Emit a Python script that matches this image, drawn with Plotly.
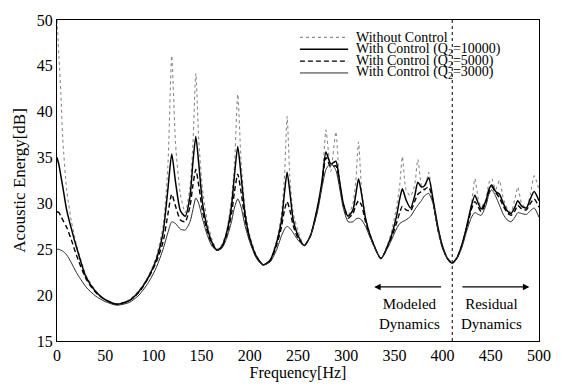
import plotly.graph_objects as go

freq = [0, 2, 4, 6, 10, 15, 20, 30, 40, 50, 62, 75, 85, 95, 103, 110, 115, 119, 123, 128, 133, 138, 141, 144, 147,
        151, 156, 161, 166, 171, 176, 181, 184, 187.5, 191, 195, 200, 207, 214, 221, 228, 233, 236, 238.7, 241.5,
        245, 250, 256.5, 263, 270, 275, 279, 284, 289.3, 293, 297, 302, 307, 310, 312.8, 316, 320, 326, 336, 346,
        352, 355.5, 358.3, 362, 366.8, 371, 374.3, 378, 381, 385.6, 390, 395, 400, 405, 410, 415, 420, 425, 430,
        433.5, 437, 440, 445, 448, 451, 455, 459, 463, 467, 471, 475, 478, 482, 487, 491, 495, 500]

no_ctrl = [50, 46, 42, 37, 31.5, 28.0, 25.6, 22.2, 20.5, 19.5, 19.0, 19.5, 20.5, 22.1, 24.2, 27.5, 34.0, 46.1, 36.5,
           31.0, 29.0, 31.8, 36.5, 44.2, 37.0, 31.5, 28.0, 26.0, 25.0, 25.5, 27.0, 30.5, 34.0, 41.9, 34.5, 29.5,
           26.5, 24.3, 23.3, 23.8, 26.0, 29.0, 33.0, 39.5, 33.0, 29.0, 27.0, 25.4, 26.5, 29.3, 32.5, 38.0, 33.5,
           37.8, 32.5, 29.8, 28.7, 30.0, 32.5, 36.7, 31.5, 28.5, 26.3, 24.0, 26.5, 29.5, 32.0, 35.1, 31.5, 30.8,
           32.0, 34.8, 32.0, 31.5, 33.4, 30.0, 27.0, 25.0, 24.0, 23.5, 24.0, 25.5, 27.5, 30.0, 32.7, 30.5, 29.6,
           30.5, 32.2, 32.7, 31.5, 32.5, 30.5, 29.5, 29.0, 30.5, 31.8, 30.0, 29.5, 31.0, 33.0, 31.5]

q10000 = [35.0, 34.2, 33.0, 31.8, 29.3, 27.2, 25.3, 22.0, 20.4, 19.5, 19.0, 19.4, 20.4, 22.0, 23.9, 26.8, 31.5, 35.4,
          32.3, 29.2, 28.6, 30.8, 34.5, 37.3, 34.4, 30.0, 27.3, 25.7, 24.9, 25.3, 26.8, 29.7, 33.0, 36.2, 33.0,
          28.9, 26.2, 24.2, 23.3, 23.8, 25.8, 28.2, 31.2, 33.4, 31.3, 28.2, 26.5, 25.4, 26.5, 29.5, 32.5, 35.6,
          34.3, 34.6, 32.5, 30.0, 28.6, 29.3, 31.0, 32.7, 31.0, 28.4, 26.2, 24.0, 26.2, 28.5, 30.5, 31.6, 30.4,
          29.5, 30.8, 32.3, 31.8, 31.9, 32.8, 30.5, 27.5, 25.3, 24.0, 23.5, 24.1, 25.5, 27.5, 29.8, 30.9, 30.0,
          29.4, 30.3, 31.5, 32.0, 31.3, 31.0, 30.0, 29.2, 28.9, 29.6, 30.3, 29.7, 29.5, 30.5, 31.3, 30.3]

q5000 = [29.1, 29.0, 28.6, 28.2, 27.4, 26.0, 24.4, 21.8, 20.3, 19.5, 19.0, 19.4, 20.3, 21.9, 23.6, 25.8, 28.8, 31.0,
         29.7, 28.2, 28.0, 29.7, 32.0, 33.7, 32.0, 29.1, 26.9, 25.5, 24.9, 25.2, 26.5, 28.8, 31.2, 33.2, 31.2,
         28.3, 26.0, 24.1, 23.3, 23.7, 25.5, 27.5, 29.3, 30.2, 29.3, 27.6, 26.2, 25.4, 26.5, 29.3, 32.2, 35.0,
         34.0, 34.1, 32.2, 29.8, 28.4, 28.9, 29.8, 30.3, 29.8, 28.0, 26.1, 24.0, 26.0, 27.8, 29.0, 29.7, 29.3,
         29.2, 30.2, 31.0, 31.3, 31.5, 31.8, 30.3, 27.3, 25.2, 24.0, 23.5, 24.1, 25.4, 27.3, 29.4, 30.2, 29.6,
         29.1, 30.1, 31.2, 31.8, 31.2, 30.6, 29.7, 29.0, 28.7, 29.2, 29.8, 29.4, 29.3, 30.0, 30.5, 29.6]

q3000 = [25.0, 25.0, 24.9, 24.8, 24.4, 23.5, 22.5, 20.9, 19.9, 19.3, 18.9, 19.2, 20.0, 21.4, 23.0, 25.0, 26.8, 28.0,
         27.8, 27.2, 27.1, 28.0, 29.3, 30.6, 30.0, 28.3, 26.5, 25.3, 24.9, 25.1, 26.2, 28.0, 29.5, 30.5, 29.6,
         27.6, 25.8, 24.0, 23.3, 23.6, 25.0, 26.5, 27.2, 27.5, 27.3, 26.8, 26.0, 25.4, 26.5, 29.0, 31.8, 33.7,
         34.4, 33.6, 31.8, 29.5, 28.0, 28.0, 28.3, 28.4, 28.2, 27.5, 26.0, 24.0, 25.8, 27.2, 27.8, 28.0, 28.2,
         28.6, 29.3, 29.8, 30.3, 30.8, 31.1, 30.0, 27.2, 25.1, 24.0, 23.5, 24.0, 25.2, 27.0, 28.5, 29.0, 28.8,
         28.7, 29.8, 31.0, 31.5, 30.8, 29.8, 28.8, 28.2, 28.0, 28.5, 29.0, 28.9, 28.8, 29.2, 29.5, 28.5]

x_ticks = [0, 50, 100, 150, 200, 250, 300, 350, 400, 450, 500]
y_ticks = [15, 20, 25, 30, 35, 40, 45, 50]
boundary_freq = 410

series_names = ["Without Control", "With Control (Q<sub>2</sub>=10000)",
                "With Control (Q<sub>2</sub>=5000)", "With Control (Q<sub>2</sub>=3000)"]
series_vals = [no_ctrl, q10000, q5000, q3000]
styles = [dict(color="#8a8a8a", width=1.1, dash="dot"),
          dict(color="#000000", width=1.5, dash="solid"),
          dict(color="#000000", width=1.4, dash="5px,3px"),
          dict(color="#2a2a2a", width=1.0, dash="solid")]

FONT = "Liberation Serif"

fig = go.Figure()
for name, vals, st in zip(series_names, series_vals, styles):
    fig.add_trace(go.Scatter(x=freq, y=vals, mode="lines", name=name, showlegend=False,
                             line=dict(shape="spline", smoothing=0.6, **st)))

# boundary line
fig.add_shape(type="line", xref="x", yref="paper", x0=boundary_freq, x1=boundary_freq, y0=0, y1=1,
              line=dict(color="black", width=1, dash="dot"))

# manual legend
leg_y = [0.946, 0.909, 0.872, 0.835]
for name, st, yy in zip(series_names, styles, leg_y):
    fig.add_shape(type="line", xref="paper", yref="paper", x0=0.504, x1=0.604, y0=yy, y1=yy, line=st)
    fig.add_annotation(xref="paper", yref="paper", x=0.617, y=yy, text=name, showarrow=False,
                       xanchor="left", yanchor="middle", font=dict(family=FONT, size=14, color="black"))

# arrows
fig.add_annotation(x=329, y=20.9, ax=400, ay=20.9, xref="x", yref="y", axref="x", ayref="y",
                   text="", showarrow=True, arrowhead=2, arrowsize=1, arrowwidth=1.3, arrowcolor="black")
fig.add_annotation(x=490, y=20.9, ax=419, ay=20.9, xref="x", yref="y", axref="x", ayref="y",
                   text="", showarrow=True, arrowhead=2, arrowsize=1, arrowwidth=1.3, arrowcolor="black")
fig.add_annotation(x=366, y=17.9, xref="x", yref="y", text="Modeled<br>Dynamics", showarrow=False,
                   font=dict(family=FONT, size=15, color="black"), align="center")
fig.add_annotation(x=451, y=17.9, xref="x", yref="y", text="Residual<br>Dynamics", showarrow=False,
                   font=dict(family=FONT, size=15, color="black"), align="center")

axis_common = dict(showline=True, mirror=True, linecolor="black", linewidth=1, ticks="",
                   showgrid=False, zeroline=False, tickfont=dict(family=FONT, size=16, color="black"))
fig.update_layout(
    width=563, height=390, margin=dict(l=57, r=18, t=12, b=42),
    paper_bgcolor="white", plot_bgcolor="white",
    font=dict(family=FONT, size=16, color="black"),
    xaxis=dict(range=[0, 500], tickvals=x_ticks, title=dict(text="Frequency[Hz]", standoff=3,
               font=dict(family=FONT, size=16)), **axis_common),
    yaxis=dict(range=[15, 50], tickvals=y_ticks, title=dict(text="Acoustic Energy[dB]", standoff=6,
               font=dict(family=FONT, size=17)), **axis_common),
)
fig.write_html("out.html")
